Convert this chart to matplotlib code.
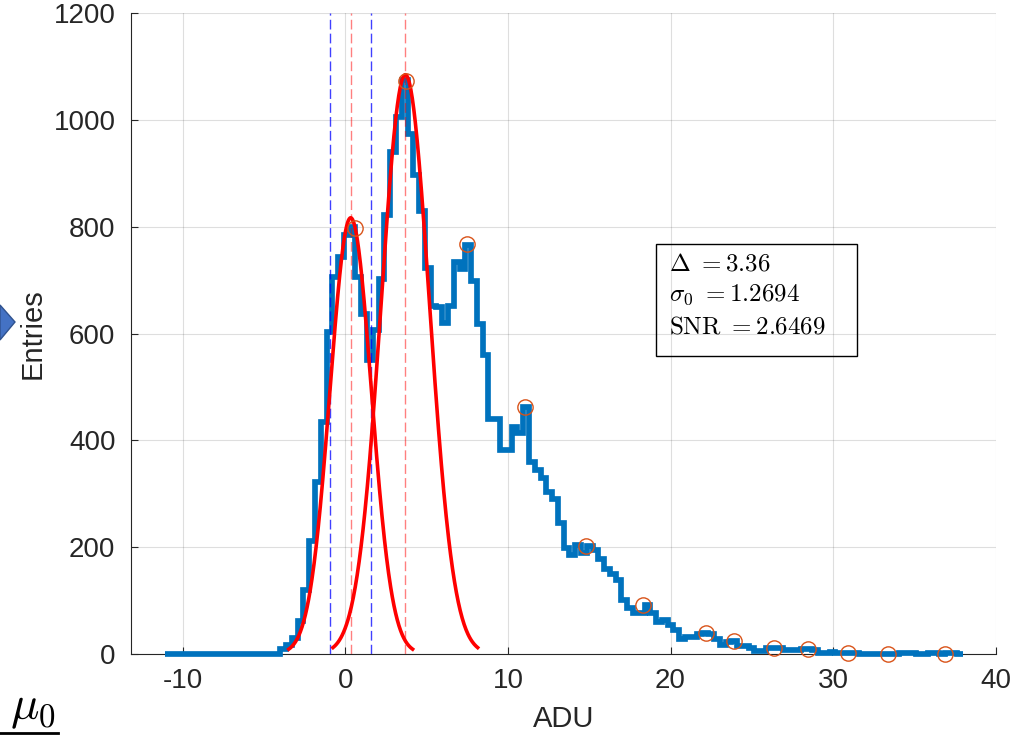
import matplotlib
matplotlib.use('Agg')
import matplotlib.pyplot as plt
import numpy as np
from matplotlib.patches import Rectangle, Polygon
from matplotlib.lines import Line2D

plt.rcParams['font.family'] = ['Liberation Sans', 'DejaVu Sans']
plt.rcParams['mathtext.fontset'] = 'cm'
plt.rcParams['axes.unicode_minus'] = False

# histogram (uniform bins, counts)
bin_start = -11.11
bin_width = 0.3556
counts = [0] * 20 + [
    10, 17, 30, 62, 119, 212, 323, 434, 604, 706,
    744, 785, 800, 706, 637, 550, 607, 703, 823, 941,
    1005, 1076, 973, 898, 830, 723, 651, 650, 620, 651,
    734, 721, 766, 699, 619, 560, 441, 440, 382, 382,
    426, 414, 462, 360, 345, 330, 304, 290, 245, 198,
    185, 204, 190, 203, 195, 178, 160, 150, 138, 101,
    86, 76, 76, 92, 76, 60, 63, 55, 45, 29,
    32, 32, 38, 40, 38, 29, 17, 22, 24, 15,
    15, 11, 6, 6, 11, 12, 11, 7, 7, 7,
    9, 10, 8, 2, 2, 4, 2, 2, 2, 2,
] + [0] * 7 + [1, 1, 1, 0, 0, 1, 1, 0, 1, 1, 0]

# peaks found on the histogram
peak_x = [0.57, 3.71, 7.48, 11.03, 14.81, 18.31, 22.17, 23.91, 26.38, 28.47, 30.93, 33.39, 36.88]
peak_y = [798, 1073, 768, 462, 203, 92, 40, 25, 12, 10, 1, 0, 0]

# gaussian fits of pedestal and first photo-electron peak
mu0, sigma0, amp0 = 0.33, 1.2694, 817
mu1, sigma1, amp1 = 3.69, 1.483, 1085

info = [r'$\Delta\ {=}3.36$', r'$\sigma_0\ {=}1.2694$', r'$\mathrm{SNR}\ {=}2.6469$']

W, H = 1035, 736
fig = plt.figure(figsize=(W / 100, H / 100), dpi=100)
ax = fig.add_axes([130.7 / W, 1 - 654 / H, 865 / W, 640.7 / H])

edges = bin_start + bin_width * np.arange(len(counts) + 1)
ax.stairs(counts, edges, color='#0072BD', lw=4.1, baseline=None, clip_on=False, zorder=3)

for mu, s, a in [(mu0, sigma0, amp0), (mu1, sigma1, amp1)]:
    xx = np.linspace(mu - 3 * s, mu + 3 * s, 300)
    ax.plot(xx, a * np.exp(-(xx - mu) ** 2 / (2 * s ** 2)), color='red', lw=2.6, zorder=5)

for xv in [mu0, mu1]:
    ax.axvline(xv, color=(1, 0, 0, 0.5), lw=1.0, ls=(0, (7, 3)), zorder=4)
for xv in [mu0 - sigma0, mu0 + sigma0]:
    ax.axvline(xv, color=(0, 0, 1, 0.75), lw=1.0, ls=(0, (7, 3)), zorder=4)

ax.plot(peak_x, peak_y, 'o', mfc='none', mec=(0.85, 0.325, 0.098), ms=11, mew=1.0,
        clip_on=False, zorder=6)

ax.set_xlim(-13.2, 40)
ax.set_ylim(0, 1200)
ax.set_xticks(range(-10, 41, 10))
ax.set_yticks(range(0, 1201, 200))
for sp in ['top', 'right']:
    ax.spines[sp].set_visible(False)
for sp in ['left', 'bottom']:
    ax.spines[sp].set_color('#262626')
    ax.spines[sp].set_linewidth(0.8)
ax.tick_params(direction='in', length=5, width=0.8, colors='#262626', labelsize=20)
ax.tick_params(axis='x', pad=10)
ax.tick_params(axis='y', pad=11)
ax.grid(True, color='#262626', alpha=0.15, lw=0.8)
ax.set_axisbelow(True)

ax.set_xlabel('ADU', fontsize=21, color='#262626')
ax.set_ylabel('Entries', fontsize=21, color='#262626')
ax.xaxis.set_label_coords(0.5, -0.08)
ax.yaxis.set_label_coords(-0.097, 0.5)

# text box
fig.add_artist(Rectangle((656 / W, 1 - 355.7 / H), 200.6 / W, 111.7 / H, transform=fig.transFigure,
                         fill=False, ec='black', lw=1.0))
for line, yb in zip(info, [271, 301, 333]):
    fig.text(669 / W, 1 - yb / H, line, fontsize=18, va='baseline', ha='left')

# slide decorations around the screenshot
fig.add_artist(Polygon([(0, 1 - 305 / H), (15 / W, 1 - 322 / H), (0, 1 - 340 / H)],
                       closed=True, transform=fig.transFigure, fc='#4472C4', ec='#2F528F', lw=1))
fig.text(10 / W, 1 - 719 / H, r'$\mu_0$', fontsize=34, va='baseline', ha='left')
fig.add_artist(Line2D([0, 58 / W], [1 - 733 / H, 1 - 733 / H], transform=fig.transFigure,
                      color='black', lw=2))

fig.savefig('out.png', dpi=100)
